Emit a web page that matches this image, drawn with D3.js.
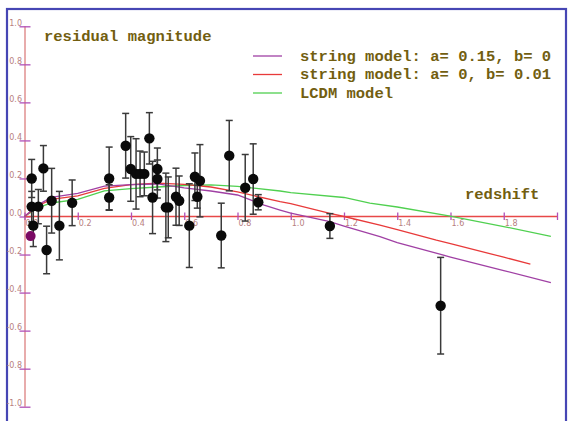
<!DOCTYPE html>
<html><head><meta charset="utf-8">
<script src="https://cdn.jsdelivr.net/npm/d3@7"></script>
<style>
html,body{margin:0;padding:0;background:#fff;}
svg{display:block;}
</style></head>
<body>
<svg id="c" width="569" height="421"></svg>
<script>
// ---- data ----
const zData   = [0.027,0.027,0.052,0.033,0.071,0.083,0.102,0.131,0.179,0.318,0.318,0.380,0.399,0.419,0.434,0.450,0.469,0.481,0.499,0.499,0.531,0.540,0.569,0.581,0.619,0.640,0.649,0.659,0.739,0.769,0.829,0.859,0.878,1.147,1.563];
const magData = [0.200,0.052,0.052,-0.048,0.253,-0.176,0.083,-0.048,0.072,0.200,0.100,0.372,0.250,0.224,0.224,0.224,0.411,0.100,0.250,0.197,0.048,0.048,0.104,0.083,-0.048,0.209,0.104,0.188,-0.100,0.320,0.151,0.197,0.075,-0.050,-0.469];
const errData = [0.100,0.080,0.090,0.110,0.120,0.125,0.170,0.180,0.120,0.165,0.067,0.170,0.170,0.185,0.120,0.115,0.135,0.190,0.110,0.100,0.180,0.160,0.150,0.130,0.220,0.125,0.060,0.190,0.170,0.185,0.175,0.185,0.040,0.065,0.254];
const zSpecial = [0.023];
const magSpecial = [-0.103];

const zPurple = [0.0,0.05,0.1,0.2,0.3,0.4,0.5,0.6,0.7,0.8,0.9,0.96,1.0,1.147,1.2,1.335,1.4,1.6,1.8,1.977];
const mPurple = [0.0,0.06,0.10,0.122,0.160,0.168,0.171,0.150,0.134,0.113,0.060,0.034,0.018,-0.027,-0.050,-0.106,-0.137,-0.213,-0.284,-0.348];
const zRed = [0.0,0.05,0.1,0.2,0.3,0.4,0.5,0.6,0.7,0.8,0.96,1.0,1.147,1.2,1.335,1.4,1.547,1.6,1.8,1.9];
const mRed = [0.0,0.055,0.090,0.108,0.148,0.168,0.175,0.169,0.155,0.129,0.078,0.068,0.017,0.0,-0.045,-0.069,-0.124,-0.142,-0.214,-0.250];
const zGreen = [0.0,0.05,0.1,0.2,0.3,0.4,0.5,0.6,0.7,0.8,0.96,1.0,1.2,1.297,1.4,1.594,1.8,1.977];
const mGreen = [0.0,0.045,0.071,0.090,0.135,0.147,0.155,0.163,0.166,0.158,0.134,0.126,0.100,0.070,0.050,0.003,-0.053,-0.104];

const xTicks = [0.0,0.2,0.4,0.6,0.8,1.0,1.2,1.4,1.6,1.8,2.0];
const xTickLabels = ["0.0","0.2","0.4","0.6","0.8","1.0","1.2","1.4","1.6","1.8",""];
const yTicks = [1.0,0.8,0.6,0.4,0.2,0.0,-0.2,-0.4,-0.6,-0.8,-1.0];
const yTickLabels = ["1.0","0.8","0.6","0.4","0.2","0.0","-0.2","-0.4","-0.6","-0.8","-1.0"];

const legendLabels = ["string model: a= 0.15, b= 0","string model: a= 0, b= 0.01","LCDM model"];
const legendColors = ["#a040a4","#e83a3a","#50d050"];

// ---- drawing ----
const svg = d3.select("#c");
const x = d3.scaleLinear().domain([0,2]).range([24.5,557]);
const y = d3.scaleLinear().domain([-1,1]).range([406.7,26.3]);

// frame
svg.append("rect").attr("x",7).attr("y",9).attr("width",559).attr("height",430)
  .attr("fill","none").attr("stroke","#4646b4").attr("stroke-width",2.2);

const tickCol = "#b050b8", labCol = "#b88080";

// y axis
const yAxis = d3.axisLeft(y).tickValues(yTicks).tickSize(0)
  .tickFormat((d,i)=>yTickLabels[i]);
const gy = svg.append("g").attr("transform",`translate(${x(0)+0.5},0)`).call(yAxis);
gy.select(".domain").remove();
gy.selectAll(".tick text").attr("x",-3).attr("dy","-0.15em")
  .attr("fill",labCol).attr("font-family","DejaVu Sans").attr("font-size",8);
svg.append("line").attr("x1",x(0)+0.5).attr("x2",x(0)+0.5).attr("y1",y(1)).attr("y2",y(-1))
  .attr("stroke","#e09090").attr("stroke-width",1.5);
gy.selectAll(".tick").append("line").attr("x1",-5.5).attr("x2",5.5)
  .attr("stroke",tickCol).attr("stroke-width",1.3);
gy.raise();

// x axis
const xAxis = d3.axisBottom(x).tickValues(xTicks).tickSize(0)
  .tickFormat((d,i)=>xTickLabels[i]);
const gx = svg.append("g").attr("transform",`translate(0,${y(0)})`).call(xAxis);
gx.select(".domain").remove();
gx.selectAll(".tick text").attr("text-anchor","start").attr("x",0.5).attr("y",9).attr("dy",0)
  .attr("fill",labCol).attr("font-family","DejaVu Sans").attr("font-size",8);
svg.append("line").attr("x1",x(0)).attr("x2",x(2)).attr("y1",y(0)).attr("y2",y(0))
  .attr("stroke","#e84848").attr("stroke-width",1.5);
gx.selectAll(".tick").append("line").attr("y1",-4).attr("y2",3.5)
  .attr("stroke",tickCol).attr("stroke-width",1.3);
gx.raise();

// curves
const line = d3.line().x(d=>x(d[0])).y(d=>y(d[1]));
function drawCurve(zs, ms, col){
  svg.append("path").datum(zs.map((z,i)=>[z,ms[i]]))
    .attr("d",line).attr("fill","none").attr("stroke",col).attr("stroke-width",1.3);
}
drawCurve(zGreen, mGreen, legendColors[2]);
drawCurve(zRed, mRed, legendColors[1]);
drawCurve(zPurple, mPurple, legendColors[0]);

// error bars & points
const pts = zData.map((z,i)=>({z, m:magData[i], e:errData[i]}));
const eb = svg.append("g").attr("stroke","#3a3a3a").attr("stroke-width",1.5);
pts.forEach(p=>{
  const cx = x(p.z);
  eb.append("line").attr("x1",cx).attr("x2",cx).attr("y1",y(p.m+p.e)).attr("y2",y(p.m-p.e));
  eb.append("line").attr("x1",cx-3.5).attr("x2",cx+3.5).attr("y1",y(p.m+p.e)).attr("y2",y(p.m+p.e));
  eb.append("line").attr("x1",cx-3.5).attr("x2",cx+3.5).attr("y1",y(p.m-p.e)).attr("y2",y(p.m-p.e));
});
svg.append("g").selectAll("circle").data(pts).join("circle")
  .attr("cx",d=>x(d.z)).attr("cy",d=>y(d.m)).attr("r",5.2).attr("fill","#0a0a0a");
svg.append("g").selectAll("circle").data(zSpecial.map((z,i)=>({z,m:magSpecial[i]}))).join("circle")
  .attr("cx",d=>x(d.z)).attr("cy",d=>y(d.m)).attr("r",5).attr("fill","#7a0a64");

// titles
const txtCol = "#725e10";
const font = "'Liberation Mono', 'Courier New', monospace";
svg.append("text").attr("x",44).attr("y",41).text("residual magnitude")
  .attr("font-family",font).attr("font-weight","bold").attr("font-size",15.5).attr("fill",txtCol);
svg.append("text").attr("x",465).attr("y",199).text("redshift")
  .attr("font-family",font).attr("font-weight","bold").attr("font-size",15.5).attr("fill",txtCol);

// legend
const lg = svg.append("g");
const ly = [56, 74.5, 93];
legendLabels.forEach((t,i)=>{
  lg.append("line").attr("x1",253).attr("x2",282).attr("y1",ly[i]).attr("y2",ly[i])
    .attr("stroke",legendColors[i]).attr("stroke-width",1.3);
  lg.append("text").attr("x",300).attr("y",ly[i]+4.5).text(t)
    .attr("font-family",font).attr("font-weight","bold").attr("font-size",15.5).attr("fill",txtCol);
});
</script>
</body></html>
